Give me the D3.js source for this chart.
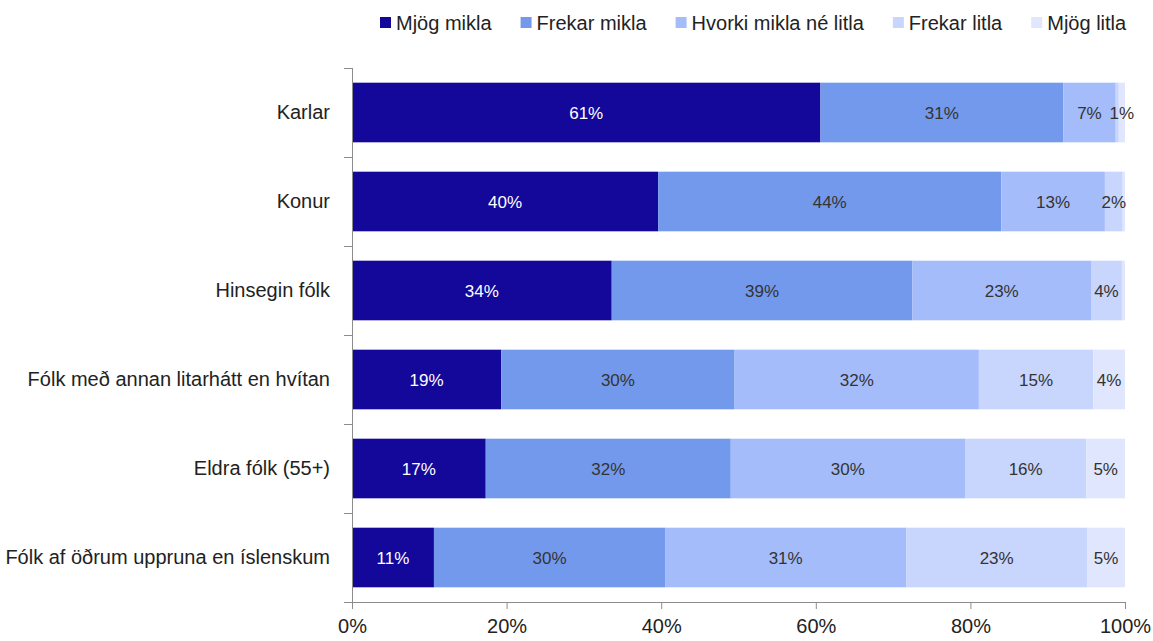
<!DOCTYPE html>
<html>
<head>
<meta charset="utf-8">
<script src="https://cdn.jsdelivr.net/npm/d3@7"></script>
<style>
  html, body { margin: 0; padding: 0; background: #fff; }
  svg text { font-family: 'Liberation Sans Narrow', 'Arial Narrow', 'Liberation Sans', Arial, sans-serif; }
</style>
</head>
<body>
<svg id="chart" width="1153" height="641"></svg>
<script>
const categories = [
  "Karlar",
  "Konur",
  "Hinsegin fólk",
  "Fólk með annan litarhátt en hvítan",
  "Eldra fólk (55+)",
  "Fólk af öðrum uppruna en íslenskum"
];
const seriesNames = ["Mjög mikla", "Frekar mikla", "Hvorki mikla né litla", "Frekar litla", "Mjög litla"];
const mjogMikla   = [60.6, 39.6, 33.6, 19.3, 17.3, 10.6];
const frekarMikla = [31.4, 44.4, 38.9, 30.2, 31.7, 29.9];
const hvorki      = [6.8, 13.4, 23.1, 31.6, 30.3, 31.2];
const frekarLitla = [0.4, 2.3, 4.0, 14.8, 15.7, 23.4];
const mjogLitla   = [0.8, 0.3, 0.4, 4.1, 5.0, 4.9];
const tickValues = [0, 20, 40, 60, 80, 100];
const tickLabels = ["0%", "20%", "40%", "60%", "80%", "100%"];
const colors = ["#14089a", "#7399ec", "#a5bcfa", "#c8d5fc", "#e0e6fd"];

const seriesValues = [mjogMikla, frekarMikla, hvorki, frekarLitla, mjogLitla];
const rows = categories.map((c, i) => {
  const r = { cat: c };
  seriesNames.forEach((s, j) => r[s] = seriesValues[j][i]);
  return r;
});

const FONT = "'Liberation Sans Narrow', 'Arial Narrow', 'Liberation Sans', Arial, sans-serif";
const svg = d3.select("#chart");
const margin = { left: 352, right: 28, top: 68, bottom: 39 };
const W = 1153, H = 641;

const x = d3.scaleLinear().domain([0, 100]).range([margin.left, W - margin.right]);
const y = d3.scaleBand().domain(categories).range([margin.top, H - margin.bottom]).paddingInner(0.33).paddingOuter(0.165);

const stack = d3.stack().keys(seriesNames)(rows);

const g = svg.append("g");
stack.forEach((layer, li) => {
  g.append("g").selectAll("rect").data(layer).join("rect")
    .attr("x", d => x(d[0]))
    .attr("y", d => y(d.data.cat))
    .attr("width", d => x(d[1]) - x(d[0]))
    .attr("height", y.bandwidth())
    .attr("fill", colors[li]);
});

// value labels
stack.forEach((layer, li) => {
  g.append("g").selectAll("text").data(layer.filter(d => Math.round(d[1] - d[0]) >= 1)).join("text")
    .attr("x", d => (x(d[0]) + x(d[1])) / 2)
    .attr("y", d => y(d.data.cat) + y.bandwidth() / 2)
    .attr("dy", "0.36em")
    .attr("text-anchor", "middle")
    .attr("font-size", 17)
    .attr("fill", li === 0 ? "#ffffff" : "#333333")
    .text(d => Math.round(d[1] - d[0]) + "%");
});

// axes
const axisColor = "#8c8c8c";
const xAxis = d3.axisBottom(x).tickValues(tickValues).tickFormat((d, i) => tickLabels[i]).tickSize(7).tickSizeOuter(0).tickPadding(10);
const xg = svg.append("g").attr("transform", `translate(0,${H - margin.bottom})`).call(xAxis);
xg.select(".domain").attr("stroke", axisColor);
xg.selectAll(".tick line").attr("stroke", axisColor);
xg.selectAll(".tick text").attr("font-size", 20).attr("fill", "#222").style("font-family", FONT);

const yAxis = d3.axisLeft(y).tickSize(0).tickPadding(22);
const yg = svg.append("g").attr("transform", `translate(${margin.left},0)`).call(yAxis);
yg.select(".domain").attr("stroke", axisColor).attr("d", `M0.5,${margin.top}V${H - margin.bottom}`);
yg.selectAll(".tick text").attr("font-size", 20).attr("fill", "#222").style("font-family", FONT);

// category boundary ticks on the y axis
const step = y.step();
const boundaries = d3.range(categories.length + 1).map(i => margin.top + i * step);
svg.append("g").selectAll("line").data(boundaries).join("line")
  .attr("x1", margin.left - 8).attr("x2", margin.left)
  .attr("y1", d => Math.round(d) + 0.5).attr("y2", d => Math.round(d) + 0.5)
  .attr("stroke", axisColor);

// legend
const legend = svg.append("g");
let lx = 380;
seriesNames.forEach((s, i) => {
  const item = legend.append("g");
  item.append("rect").attr("x", lx).attr("y", 17).attr("width", 11).attr("height", 11).attr("fill", colors[i]);
  const t = item.append("text").attr("x", lx + 16).attr("y", 23).attr("dy", "0.36em")
    .attr("font-size", 20).attr("fill", "#222").text(s);
  lx += 16 + t.node().getComputedTextLength() + 29;
});
</script>
</body>
</html>
